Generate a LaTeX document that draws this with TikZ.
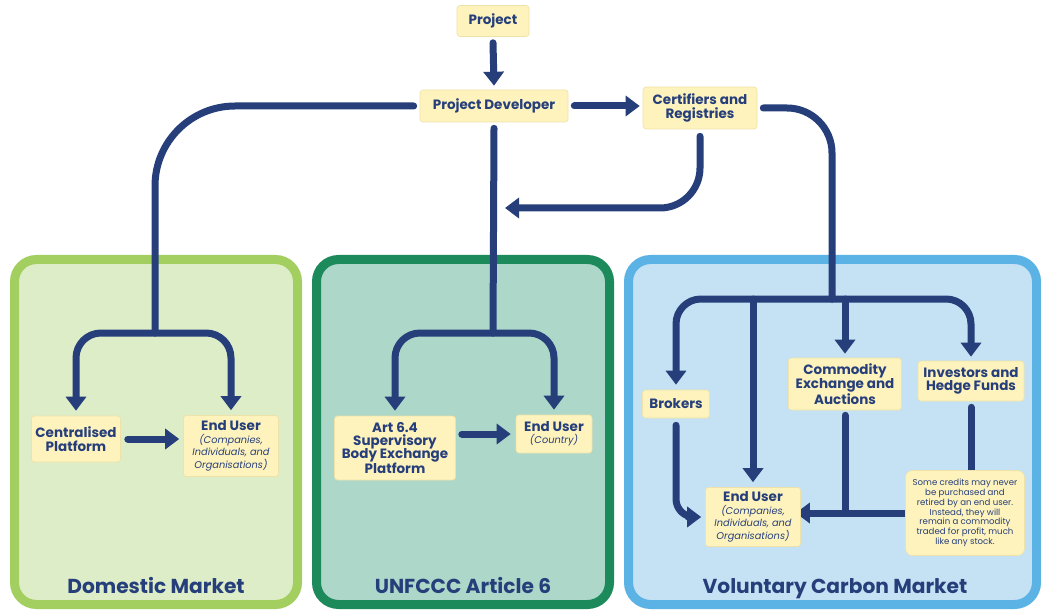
\documentclass[tikz,border=0pt]{standalone}
\usepackage{fontspec}
\setmainfont{Poppins}
\usetikzlibrary{arrows.meta}
\definecolor{arr}{HTML}{263F7B}
\definecolor{boxfill}{HTML}{FEF3BD}
\definecolor{boxline}{HTML}{EFE2A8}
\definecolor{domline}{HTML}{A2CF5F}
\definecolor{domfill}{HTML}{DDEDC7}
\definecolor{unline}{HTML}{1D8A5C}
\definecolor{unfill}{HTML}{ADD7C8}
\definecolor{volline}{HTML}{5BB2E5}
\definecolor{volfill}{HTML}{C5E2F4}
\pgfdeclarelayer{panels}
\pgfdeclarelayer{conn}
\pgfsetlayers{panels,conn,main}
\newcommand{\subtxt}[1]{{\mdseries\itshape\fontsize{9.8}{10}\selectfont #1}}
\begin{document}
\begin{tikzpicture}[x=1pt,y=-1pt,
  yb/.style={fill=boxfill, draw=boxline, line width=0.6pt, rounded corners=3pt, text=arr,
    font=\bfseries\fontsize{13.5}{13.5}\selectfont, align=center, inner sep=1pt},
  notebox/.style={fill=boxfill, draw=boxline, line width=0.6pt, rounded corners=7pt, text=arr,
    font=\fontsize{8.6}{9.8}\selectfont, align=center, inner sep=1pt},
  flow/.style={draw=arr, line width=7pt, line cap=round},
  tip/.style={-{Triangle[length=14pt,width=20pt]}},
  panel/.style={line width=9pt, rounded corners=22pt},
  ptitle/.style={text=arr, anchor=base, font=\bfseries\fontsize{20.2}{21}\selectfont}]
\useasboundingbox (0,0) rectangle (1041,612);

% panels
\begin{pgfonlayer}{panels}
\fill[white] (0,0) rectangle (1041,612);
\draw[panel, draw=domline, fill=domfill] (14.5,259.5) rectangle (297.5,604.5);
\draw[panel, draw=unline, fill=unfill] (316.5,259.5) rectangle (609.5,604.5);
\draw[panel, draw=volline, fill=volfill] (628.5,259.5) rectangle (1036.5,604.5);
\end{pgfonlayer}
\node[ptitle] (tdom) at (156,593) {Domestic Market};
\node[ptitle] (tun) at (463,593) {UNFCCC Article 6};
\node[ptitle] (tvol) at (835,593) {Voluntary Carbon Market};

% boxes
\node[yb, minimum width=72pt, minimum height=31pt] (proj) at (493,21) {Project};
\node[yb, minimum width=148pt, minimum height=32pt] (pd) at (494,106) {Project Developer};
\node[yb, minimum width=114pt, minimum height=42pt] (cert) at (700,108) {Certifiers and\\Registries};
\node[yb, minimum width=89pt, minimum height=46pt] (cp) at (76,439) {Centralised\\Platform};
\node[yb, minimum width=95pt, minimum height=61pt] (eu1) at (231,446) {End User\\[-1pt]\subtxt{(Companies,}\\[-1pt]\subtxt{Individuals, and}\\[-1pt]\subtxt{Organisations)}};
\node[yb, minimum width=121pt, minimum height=64pt] (art) at (395,448) {Art 6.4\\[-1pt]Supervisory\\[-1pt]Body Exchange\\[-1pt]Platform};
\node[yb, minimum width=76pt, minimum height=38pt] (eu2) at (554,434) {End User\\[-1pt]\subtxt{(Country)}};
\node[yb, minimum width=67pt, minimum height=28pt] (brk) at (676,404) {Brokers};
\node[yb, minimum width=113pt, minimum height=52pt] (com) at (845,384) {Commodity\\Exchange and\\Auctions};
\node[yb, minimum width=106pt, minimum height=40pt] (inv) at (971,381) {Investors and\\Hedge Funds};
\node[yb, minimum width=95pt, minimum height=59pt] (eu3) at (753,517) {End User\\[-1pt]\subtxt{(Companies,}\\[-1pt]\subtxt{Individuals, and}\\[-1pt]\subtxt{Organisations)}};
\node[notebox, minimum width=119pt, minimum height=85pt] (note) at (965,513) {Some credits may never\\be purchased and\\retired by an end user.\\Instead, they will\\remain a commodity\\traded for profit, much\\like any stock.};

\coordinate (dj) at (155,333);
\coordinate (uj) at (493,333);
\coordinate (vj) at (832,299);
\coordinate (ct) at (505,208);

\begin{pgfonlayer}{conn}
\draw[flow,tip] ([yshift=-6pt]proj.south) -- ([yshift=4pt]pd.north);
\draw[flow,tip] ([xshift=6pt]pd.east) -- ([xshift=-3pt]pd.east -| cert.west);
% domestic
\draw[flow, rounded corners=80pt] ([xshift=-6pt]pd.west) -| (dj);
\draw[flow,tip, rounded corners=25pt] (dj) -| ([yshift=5pt]cp.north);
\draw[flow,tip, rounded corners=25pt] (dj) -| ([yshift=5pt]eu1.north);
\draw[flow,tip] ([xshift=7pt]cp.east) -- ([xshift=-4pt]cp.east -| eu1.west);
% unfccc
\draw[flow] ([yshift=-6pt]pd.south) -- (uj);
\draw[flow,tip, rounded corners=25pt] (uj) -| ([yshift=5pt]art.north);
\draw[flow,tip, rounded corners=25pt] (uj) -| ([yshift=5pt]eu2.north);
\draw[flow,tip] ([xshift=6pt]eu2.west -| art.east) -- ([xshift=-5pt]eu2.west);
\draw[flow,tip, rounded corners=40pt] ([yshift=-7pt]cert.south) |- (ct);
% voluntary
\draw[flow, rounded corners=45pt] ([xshift=6pt]cert.east) -| (vj);
\draw[flow,tip, rounded corners=25pt] (vj) -| ([yshift=5pt]brk.north);
\draw[flow,tip, rounded corners=25pt] (vj) -| ([yshift=4pt]inv.north);
\draw[flow,tip] (vj -| eu3.north) -- ([yshift=5pt]eu3.north);
\draw[flow,tip] (vj -| com.north) -- ([yshift=4pt]com.north);
\draw[flow,tip, rounded corners=18pt] ([yshift=-7pt]brk.south) |- ([xshift=-4pt]eu3.west);
\draw[flow] ([yshift=-5pt]com.south) -- (com.south |- note.west);
\draw[flow,tip] (note.west) -- ([xshift=-5pt]note.west -| eu3.east);
\draw[flow] ([yshift=-6pt]inv.south) -- (inv.south |- note.north);
\end{pgfonlayer}
\end{tikzpicture}
\end{document}
